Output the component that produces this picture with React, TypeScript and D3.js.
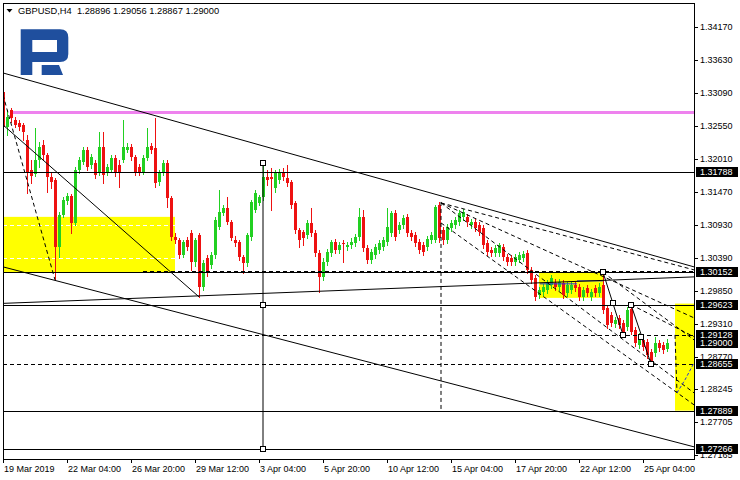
import React from "react";
import * as d3 from "d3";

// ---- OHLC data (GBPUSD H4), bar 0 = 19 Mar 2019 ----
const opens = [
  1.33102, 1.32531, 1.32808, 1.32645, 1.32596, 1.32563, 1.32318, 1.31827, 1.31762, 1.31991,
  1.32236, 1.32072, 1.31713, 1.31664, 1.30568, 1.31091, 1.3132, 1.31402, 1.3096, 1.31827,
  1.31958, 1.32154, 1.31909, 1.31942, 1.31794, 1.32204, 1.31794, 1.31827, 1.32023, 1.31909,
  1.31991, 1.32154, 1.32204, 1.3204, 1.31877, 1.31794, 1.32023, 1.3222, 1.32187, 1.31631,
  1.31778, 1.31942, 1.31369, 1.30732, 1.30682, 1.30437, 1.30682, 1.30797, 1.30322, 1.30764,
  1.29914, 1.30388, 1.30273, 1.30437, 1.30895, 1.31124, 1.31205, 1.30976, 1.30682, 1.30649,
  1.30405, 1.30306, 1.30732, 1.31173, 1.31287, 1.31386, 1.31713, 1.31713, 1.31533, 1.31664,
  1.31778, 1.31696, 1.31631, 1.31287, 1.30846, 1.30813, 1.30764, 1.3096, 1.30797, 1.3047,
  1.30078, 1.30322, 1.3047, 1.30649, 1.30519, 1.30633, 1.30568, 1.30601, 1.30633, 1.30732,
  1.31059, 1.30551, 1.30355, 1.30437, 1.30519, 1.30568, 1.30649, 1.30797, 1.31124, 1.30846,
  1.30928, 1.31059, 1.30797, 1.30764, 1.30649, 1.30601, 1.30568, 1.30682, 1.30682, 1.31254,
  1.30846, 1.30682, 1.30878, 1.30928, 1.30976, 1.31059, 1.31059, 1.30928, 1.30976, 1.30928,
  1.30878, 1.30633, 1.30519, 1.3047, 1.3047, 1.30568, 1.30405, 1.30388, 1.30322, 1.30355,
  1.30388, 1.3047, 1.30192, 1.30061, 1.29783, 1.29832, 1.29865, 1.29946, 1.29979, 1.29914,
  1.29979, 1.29816, 1.29865, 1.29946, 1.29914, 1.29751, 1.29897, 1.29751, 1.29897, 1.29816,
  1.29947, 1.2957, 1.29456, 1.29309, 1.29407, 1.29325, 1.2926, 1.29554, 1.29211, 1.28965,
  1.29047, 1.29014, 1.28851, 1.28835, 1.28998, 1.28965, 1.28896,
];
const highs = [
  1.33152, 1.32808, 1.32841, 1.32694, 1.32645, 1.32596, 1.32399, 1.31991, 1.32514, 1.32285,
  1.32318, 1.32105, 1.31794, 1.31696, 1.3114, 1.31386, 1.31451, 1.31435, 1.31877, 1.3204,
  1.32204, 1.32204, 1.32089, 1.31991, 1.32448, 1.32448, 1.31926, 1.32072, 1.32072, 1.31991,
  1.32645, 1.32269, 1.32253, 1.32072, 1.31926, 1.32072, 1.32514, 1.32269, 1.32677, 1.31827,
  1.31991, 1.31991, 1.31402, 1.30797, 1.30715, 1.30682, 1.30732, 1.30846, 1.30715, 1.30797,
  1.30355, 1.30437, 1.30486, 1.31059, 1.315, 1.31254, 1.31386, 1.31009, 1.30748, 1.30682,
  1.30437, 1.30797, 1.31336, 1.315, 1.31418, 1.31942, 1.31827, 1.3186, 1.31827, 1.31844,
  1.3186, 1.31909, 1.31664, 1.3132, 1.30878, 1.30846, 1.31009, 1.31205, 1.30846, 1.30519,
  1.30388, 1.30535, 1.30682, 1.30699, 1.30649, 1.30682, 1.30649, 1.30715, 1.3078, 1.31205,
  1.31173, 1.30601, 1.30535, 1.30617, 1.30682, 1.30732, 1.31205, 1.31157, 1.31173, 1.30976,
  1.31091, 1.31108, 1.30846, 1.30813, 1.30699, 1.30649, 1.30748, 1.30813, 1.31254, 1.31303,
  1.30895, 1.30944, 1.31009, 1.31059, 1.31173, 1.31189, 1.31108, 1.31026, 1.31026, 1.30976,
  1.30928, 1.30682, 1.30568, 1.30601, 1.30633, 1.30617, 1.30454, 1.30437, 1.30454, 1.30486,
  1.30503, 1.30519, 1.30241, 1.3011, 1.29914, 1.29963, 1.30028, 1.3011, 1.30045, 1.30045,
  1.30028, 1.29995, 1.29995, 1.29995, 1.29963, 1.29914, 1.29947, 1.29881, 1.29947, 1.29979,
  1.30152, 1.2962, 1.29505, 1.29424, 1.29456, 1.29374, 1.29587, 1.29623, 1.2926, 1.29162,
  1.29097, 1.29064, 1.289, 1.29097, 1.29047, 1.29014, 1.29056,
];
const lows = [
  1.32498, 1.32399, 1.32612, 1.32531, 1.32481, 1.32318, 1.31451, 1.31615, 1.31729, 1.31877,
  1.31991, 1.31467, 1.31533, 1.30028, 1.30405, 1.31059, 1.31271, 1.30797, 1.30927, 1.31778,
  1.31926, 1.31827, 1.3186, 1.31696, 1.31745, 1.31615, 1.31745, 1.31794, 1.31729, 1.3155,
  1.31958, 1.32121, 1.31991, 1.31745, 1.31745, 1.31762, 1.31991, 1.32105, 1.3155, 1.31582,
  1.31745, 1.31222, 1.30682, 1.30633, 1.30388, 1.30405, 1.30519, 1.30192, 1.30257, 1.29751,
  1.29865, 1.30094, 1.30224, 1.30388, 1.30862, 1.31091, 1.30944, 1.30682, 1.30584, 1.30355,
  1.30143, 1.30257, 1.30682, 1.3114, 1.31254, 1.31336, 1.31582, 1.31173, 1.31467, 1.31615,
  1.31664, 1.31566, 1.31205, 1.30797, 1.30568, 1.30601, 1.30715, 1.30748, 1.30421, 1.29832,
  1.30028, 1.30273, 1.30421, 1.3047, 1.3047, 1.30322, 1.30519, 1.30551, 1.30584, 1.30682,
  1.30503, 1.30306, 1.30306, 1.30388, 1.3047, 1.30519, 1.30601, 1.30748, 1.30682, 1.30797,
  1.30878, 1.30748, 1.30682, 1.30584, 1.3047, 1.30437, 1.30519, 1.30633, 1.30649, 1.30649,
  1.30617, 1.30633, 1.3083, 1.30878, 1.30928, 1.31009, 1.30911, 1.30878, 1.3083, 1.30764,
  1.30551, 1.30437, 1.30421, 1.30421, 1.30421, 1.30355, 1.30273, 1.30273, 1.30273, 1.30322,
  1.30339, 1.30143, 1.29979, 1.29701, 1.29734, 1.29783, 1.29816, 1.29897, 1.29865, 1.29865,
  1.29734, 1.29767, 1.29816, 1.29849, 1.29701, 1.29701, 1.29767, 1.29701, 1.29767, 1.29767,
  1.29489, 1.29243, 1.29276, 1.2926, 1.29243, 1.29128, 1.29211, 1.29146, 1.28949, 1.28916,
  1.28884, 1.28753, 1.28655, 1.28786, 1.28868, 1.28835, 1.28867,
];
const closes = [
  1.32531, 1.32694, 1.32677, 1.32563, 1.32531, 1.32448, 1.31794, 1.31729, 1.31991, 1.32204,
  1.32072, 1.31713, 1.31631, 1.30568, 1.31091, 1.31336, 1.31402, 1.3096, 1.31827, 1.31991,
  1.32154, 1.31877, 1.3204, 1.31745, 1.32204, 1.31745, 1.31877, 1.32023, 1.31778, 1.31778,
  1.32204, 1.32204, 1.3204, 1.31794, 1.31794, 1.32023, 1.32204, 1.32154, 1.31615, 1.31778,
  1.31942, 1.31369, 1.30732, 1.30682, 1.30437, 1.30649, 1.30568, 1.30322, 1.30682, 1.29914,
  1.30306, 1.30159, 1.30437, 1.31009, 1.3114, 1.31205, 1.30976, 1.30715, 1.30633, 1.30405,
  1.30306, 1.30764, 1.31303, 1.31451, 1.31386, 1.31713, 1.31664, 1.3168, 1.31778, 1.31794,
  1.31713, 1.31615, 1.31254, 1.30846, 1.30682, 1.30715, 1.3096, 1.30797, 1.3047, 1.30078,
  1.30322, 1.30486, 1.30649, 1.30519, 1.30601, 1.30617, 1.30601, 1.30649, 1.30732, 1.31059,
  1.30551, 1.30355, 1.30486, 1.30568, 1.30633, 1.30682, 1.30895, 1.31124, 1.30732, 1.30928,
  1.31042, 1.30797, 1.30732, 1.30633, 1.30519, 1.30486, 1.30699, 1.30764, 1.31222, 1.30715,
  1.30682, 1.30895, 1.3096, 1.31009, 1.31124, 1.3114, 1.30976, 1.30976, 1.30878, 1.30813,
  1.30601, 1.30486, 1.3047, 1.30551, 1.30601, 1.30405, 1.30322, 1.30322, 1.30405, 1.30437,
  1.30454, 1.30192, 1.30028, 1.29751, 1.29865, 1.29914, 1.29979, 1.30061, 1.29914, 1.29995,
  1.29783, 1.29946, 1.29946, 1.29897, 1.29751, 1.29865, 1.29816, 1.29832, 1.29816, 1.29914,
  1.29538, 1.29293, 1.29325, 1.29374, 1.29293, 1.29162, 1.29538, 1.29178, 1.28998, 1.29097,
  1.28933, 1.28802, 1.28687, 1.28998, 1.28916, 1.28884, 1.29,
];

// ---- axis labels ----
const timeLabels = [
  "19 Mar 2019", "22 Mar 04:00", "26 Mar 20:00", "29 Mar 12:00", "3 Apr 04:00", "5 Apr 20:00",
  "10 Apr 12:00", "15 Apr 04:00", "17 Apr 20:00", "22 Apr 12:00", "25 Apr 04:00",
];
const timeLabelBars = [0, 16, 32, 48, 64, 80, 96, 112, 128, 144, 160];
const priceTicks = [
  1.3417, 1.3363, 1.3309, 1.3255, 1.3201, 1.3147, 1.3093, 1.3039, 1.2985, 1.2931, 1.2877,
  1.28245, 1.27705, 1.27165,
];
const markedPrices = [1.31788, 1.30152, 1.29623, 1.29, 1.29128, 1.28655, 1.27889, 1.27266];

// ---- drawn objects (bar index, price) ----
const solidLevels = [1.31788, 1.30152, 1.29623, 1.27889, 1.27266];
const dashedLevels = [1.29128, 1.28655];
const magentaLevel = 1.32768;
const upperDashedLevel = 1.30175;
const upperDashedFrom = 35;

const solidTrends: [number, number][][] = [
  [[0, 1.33413], [172.75, 1.30241]],
  [[0, 1.30241], [172.75, 1.27297]],
  [[0, 1.29644], [172.75, 1.30077]],
  [[0, 1.32563], [49, 1.2975]],
  [[65, 1.31942], [65, 1.27266]],
  [[150, 1.30152], [155, 1.29128]],
  [[157, 1.29623], [162, 1.28655]],
];
const dashedTrends: [number, number][][] = [
  [[0, 1.33053], [13, 1.30028]],
  [[109.5, 1.31303], [109.5, 1.27889]],
  [[109.5, 1.31287], [172.75, 1.30192]],
  [[109.5, 1.31287], [172.75, 1.29407]],
  [[109.5, 1.31287], [172.75, 1.2818]],
  [[109.5, 1.3096], [172.75, 1.27984]],
  [[150, 1.30152], [172.75, 1.29047]],
  [[157, 1.29623], [172.75, 1.29097]],
  [[168, 1.29128], [168.5, 1.2818]],
];
const forecastPath: [number, number][] = [[168.5, 1.2818], [170.5, 1.28393], [172.75, 1.28671]];
const squares: [number, number][] = [
  [65, 1.31942], [65, 1.29623], [65, 1.27266],
  [150, 1.30152], [152.5, 1.29652], [155, 1.29128],
  [157, 1.29623], [159.5, 1.29097], [162, 1.28655],
];
const zoneStart = [0, 134, 168];
const zoneEnd = [43, 150, 172.75];
const zoneHigh = [1.31059, 1.30159, 1.2964];
const zoneLow = [1.30152, 1.29734, 1.27889];
const zoneInnerLevels = [1.30928, 1.30388];
const rangeMid: [number, number][][] = [
  [[134.25, 1.29963], [143.5, 1.29963]],
  [[143.5, 1.30012], [150, 1.30012]],
];

const W = 740;
const H = 480;
const L = 3;
const T = 3;
const R = 694;
const B = 459;
const FONT = "'Liberation Sans', Arial, sans-serif";

export default function App() {
  const x = d3.scaleLinear().domain([0, 172.75]).range([L, R]);
  const y = d3.scaleLinear().domain([1.27098, 1.34541]).range([B, 4]);
  const fmt = d3.format(".5f");
  const line = d3
    .line<[number, number]>()
    .x((d) => x(d[0]))
    .y((d) => y(d[1]));
  const n = opens.length;
  const last = n - 1;
  const header = `GBPUSD,H4  ${fmt(opens[last])} ${fmt(highs[last])} ${fmt(lows[last])} ${fmt(closes[last])}`;

  return (
    <svg
      width={W}
      height={H}
      style={{ position: "absolute", left: 0, top: 0, background: "#fff" }}
      fontFamily={FONT}
    >
      <defs>
        <clipPath id="plot">
          <rect x={L} y={T} width={R - L} height={B - T} />
        </clipPath>
      </defs>
      <rect x={0} y={0} width={W} height={H} fill="#fff" />

      {/* logo */}
      <g fill="#1f4f9e">
        <path
          fillRule="evenodd"
          d="M20.7,29.3 H60 Q68.3,29.3 68.3,37.5 V54 Q68.3,62 60,62 H32.3 V75 H20.7 Z M32.3,40 H57 V52 H32.3 Z"
        />
        <path d="M41.7,65 H59 L63,75 H41.7 Z" />
      </g>

      <g clipPath="url(#plot)">
        {/* zones */}
        {zoneStart.map((s, k) => (
          <rect
            key={"z" + k}
            x={x(s)}
            y={y(zoneHigh[k])}
            width={x(zoneEnd[k]) - x(s)}
            height={y(zoneLow[k]) - y(zoneHigh[k])}
            fill="#ffff00"
          />
        ))}
        {zoneInnerLevels.map((p, k) => (
          <line
            key={"zi" + k}
            x1={x(zoneStart[0])}
            x2={x(zoneEnd[0])}
            y1={Math.round(y(p)) + 0.5}
            y2={Math.round(y(p)) + 0.5}
            stroke="#fff"
            strokeDasharray="4,3"
          />
        ))}

        {/* magenta level */}
        <line x1={x(2.5)} x2={R} y1={y(magentaLevel)} y2={y(magentaLevel)} stroke="#ee82ee" strokeWidth={3} />

        {/* candles */}
        {opens.map((o, i) => {
          const c = closes[i];
          const xi = Math.round(x(i));
          const bull = c >= o;
          const col = bull ? "#22d022" : "#ee1111";
          const yt = Math.round(y(Math.max(o, c)));
          const yb = Math.round(y(Math.min(o, c)));
          return (
            <g key={"c" + i} shapeRendering="crispEdges">
              <line
                x1={xi + 0.5}
                x2={xi + 0.5}
                y1={Math.round(y(highs[i]))}
                y2={Math.round(y(lows[i])) + 1}
                stroke={col}
              />
              <rect x={xi - 1} y={yt} width={3} height={Math.max(1, yb - yt)} fill={col} />
            </g>
          );
        })}

        {/* horizontal levels */}
        {solidLevels.map((p, k) => (
          <line
            key={"sl" + k}
            x1={L}
            x2={R}
            y1={Math.round(y(p)) + 0.5}
            y2={Math.round(y(p)) + 0.5}
            stroke="#000"
          />
        ))}
        {dashedLevels.map((p, k) => (
          <line
            key={"dl" + k}
            x1={L}
            x2={R}
            y1={Math.round(y(p)) + 0.5}
            y2={Math.round(y(p)) + 0.5}
            stroke="#000"
            strokeDasharray="4,3"
          />
        ))}
        <line
          x1={x(upperDashedFrom)}
          x2={R}
          y1={Math.round(y(upperDashedLevel)) + 0.5}
          y2={Math.round(y(upperDashedLevel)) + 0.5}
          stroke="#000"
          strokeDasharray="4,3"
        />
        {rangeMid.map((seg, k) => (
          <path key={"rm" + k} d={line(seg) || ""} stroke="#2233dd" fill="none" />
        ))}

        {/* trend lines */}
        {solidTrends.map((seg, k) => (
          <path key={"st" + k} d={line(seg) || ""} stroke="#000" fill="none" strokeWidth={1} />
        ))}
        {dashedTrends.map((seg, k) => (
          <path key={"dt" + k} d={line(seg) || ""} stroke="#000" fill="none" strokeDasharray="4,3" />
        ))}
        <path d={line(forecastPath) || ""} stroke="#2233dd" fill="none" strokeDasharray="3,2" />

        {squares.map((d, k) => (
          <rect
            key={"sq" + k}
            x={Math.round(x(d[0])) - 2.5}
            y={Math.round(y(d[1])) - 2.5}
            width={5}
            height={5}
            fill="#fff"
            stroke="#000"
          />
        ))}
      </g>

      {/* frame */}
      <rect x={L + 0.5} y={T + 0.5} width={R - L} height={B - T} fill="none" stroke="#000" />

      {/* header */}
      <path d="M6.5,9 L12.5,9 L9.5,12.5 Z" fill="#000" />
      <text x={18} y={14} fontSize={9.3} fill="#000" style={{ whiteSpace: "pre" }}>
        {header}
      </text>

      {/* price axis */}
      {priceTicks.map((p, k) => (
        <g key={"pt" + k}>
          <line x1={R} x2={R + 4} y1={Math.round(y(p)) + 0.5} y2={Math.round(y(p)) + 0.5} stroke="#000" />
          <text x={700} y={y(p)} dy="0.35em" fontSize={9} fill="#000">
            {fmt(p)}
          </text>
        </g>
      ))}
      {markedPrices.map((p, k) => (
        <g key={"mp" + k}>
          <rect x={696} y={Math.round(y(p)) - 5} width={42} height={10} fill="#000" />
          <text x={700} y={y(p)} dy="0.35em" fontSize={9} fill="#fff">
            {fmt(p)}
          </text>
        </g>
      ))}

      {/* time axis */}
      {timeLabelBars.map((b, k) => (
        <g key={"tl" + k}>
          <line x1={x(b) + 0.5} x2={x(b) + 0.5} y1={B} y2={B + 4} stroke="#000" />
          <text x={x(b) + 1} y={472} fontSize={9} fill="#000">
            {timeLabels[k]}
          </text>
        </g>
      ))}
    </svg>
  );
}
